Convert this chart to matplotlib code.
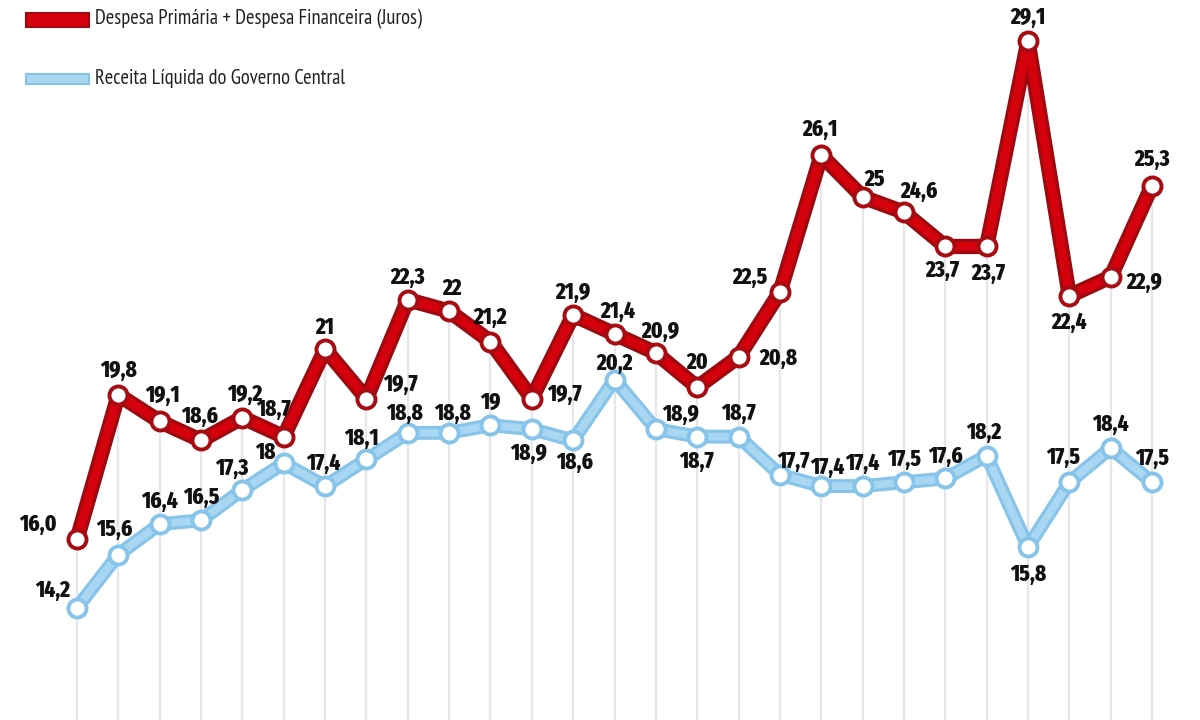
import matplotlib
matplotlib.use("Agg")
import matplotlib.pyplot as plt
import matplotlib.patheffects as pe

red_label = "Despesa Primária + Despesa Financeira (Juros)"
blue_label = "Receita Líquida do Governo Central"

despesa = [16.0, 19.8, 19.1, 18.6, 19.2, 18.7, 21, 19.7, 22.3, 22, 21.2, 19.7, 21.9, 21.4,
           20.9, 20, 20.8, 22.5, 26.1, 25, 24.6, 23.7, 23.7, 29.1, 22.4, 22.9, 25.3]
receita = [14.2, 15.6, 16.4, 16.5, 17.3, 18, 17.4, 18.1, 18.8, 18.8, 19, 18.9, 18.6, 20.2,
           18.9, 18.7, 18.7, 17.7, 17.4, 17.4, 17.5, 17.6, 18.2, 15.8, 17.5, 18.4, 17.5]
despesa_text = ["16,0", "19,8", "19,1", "18,6", "19,2", "18,7", "21", "19,7", "22,3", "22", "21,2",
                "19,7", "21,9", "21,4", "20,9", "20", "20,8", "22,5", "26,1", "25", "24,6", "23,7",
                "23,7", "29,1", "22,4", "22,9", "25,3"]
receita_text = ["14,2", "15,6", "16,4", "16,5", "17,3", "18", "17,4", "18,1", "18,8", "18,8", "19",
                "18,9", "18,6", "20,2", "18,9", "18,7", "18,7", "17,7", "17,4", "17,4", "17,5",
                "17,6", "18,2", "15,8", "17,5", "18,4", "17,5"]

# label offsets (pixels) relative to each point
red_off = [(-39, 15), (0, 24), (3, 26), (-1, 24), (2, 23), (-10, 27), (0, 22), (34, 14), (0, 22),
           (3, 23), (0, 24), (33, 4), (0, 23), (3, 23), (5, 22), (0, 25), (40, -2), (-30, 15),
           (-1, 26), (12, 18), (15, 21), (-3, -24), (2, -27), (0, 24), (0, -26), (34, -5), (0, 26)]
blue_off = [(-24, 17), (-4, 25), (0, 23), (0, 23), (-11, 22), (-18, 11), (-2, 23), (-5, 21),
            (-3, 19), (3, 19), (0, 23), (-3, -24), (1, -22), (0, 16), (25, 15), (-1, -25),
            (0, 23), (13, 13), (6, 19), (0, 23), (0, 23), (0, 22), (-3, 23), (0, -27),
            (-6, 25), (0, 24), (0, 24)]

fig = plt.figure(figsize=(12, 7.2), dpi=100)
ax = fig.add_axes([0, 0, 1, 1])
x = list(range(len(despesa)))
ax.set_xlim(-1.862, 27.16)
ax.set_ylim(11.25, 30.18)
ax.axis("off")

ax.vlines(x, 0, despesa, color="#e6e7ec", lw=1.6, zorder=0)

ax.plot(x, despesa, color="#d4000c", lw=6.5, solid_joinstyle="round", solid_capstyle="round",
        zorder=3, path_effects=[pe.Stroke(linewidth=11, foreground="#9c0a10"), pe.Normal()])
ax.plot(x, despesa, ls="none", marker="o", ms=13, mfc="white", mec="#a70c12", mew=2.8, zorder=4)

ax.plot(x, receita, color="#a9d7f2", lw=5.5, solid_joinstyle="round", solid_capstyle="round",
        zorder=3, path_effects=[pe.Stroke(linewidth=10, foreground="#86c4ea"), pe.Normal()])
ax.plot(x, receita, ls="none", marker="o", ms=13, mfc="white", mec="#86c4ea", mew=2.8, zorder=4)

lab_font = dict(family=["Fira Sans Extra Condensed", "DejaVu Sans"], fontsize=16.5,
                fontweight="heavy", color="#111111", ha="center", va="center", zorder=6)
for xi, v, t, o in zip(x, despesa, despesa_text, red_off):
    ax.annotate(t, (xi, v), xytext=o, textcoords="offset pixels", **lab_font)
for xi, v, t, o in zip(x, receita, receita_text, blue_off):
    ax.annotate(t, (xi, v), xytext=o, textcoords="offset pixels", **lab_font)

# legend
for yy, hh, face, edge, txt in [(0.972, 0.019, "#d4000c", "#9c0a10", red_label),
                                 (0.890, 0.014, "#a9d7f2", "#86c4ea", blue_label)]:
    fig.patches.append(plt.Rectangle((0.022, yy - hh / 2), 0.052, hh, transform=fig.transFigure,
                                     facecolor=face, edgecolor=edge, lw=1.5))
    fig.text(0.079, yy + 0.001, txt, ha="left", va="center", fontsize=14.8, color="#222222",
             family=["PT Sans Narrow", "DejaVu Sans"])

fig.savefig("out.png", dpi=100, facecolor="white")
